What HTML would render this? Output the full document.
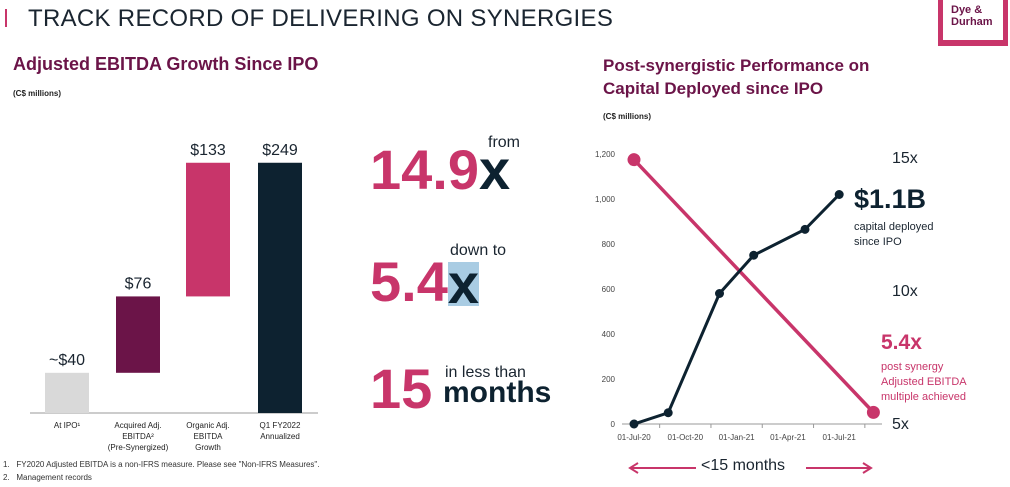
<!DOCTYPE html>
<html><head><meta charset="utf-8"><style>
body{margin:0;width:1010px;height:487px;background:#fff;overflow:hidden;font-family:"Liberation Sans",sans-serif;position:relative}
.a{position:absolute;white-space:nowrap}
</style></head><body>
<div class="a" style="left:5px;top:9px;width:2px;height:18px;background:#c8356a"></div>
<div class="a" style="left:28px;top:5px;font-size:24px;color:#1a2530;letter-spacing:0.3px">TRACK RECORD OF DELIVERING ON SYNERGIES</div>
<div class="a" style="left:938px;top:-4px;width:60px;height:44px;border:5px solid #c8356a;border-top:none;border-bottom:none"></div>
<div class="a" style="left:938px;top:40px;width:70px;height:6px;background:#c8356a"></div>
<div class="a" style="left:951px;top:4px;font-size:11px;font-weight:bold;color:#6b1448;line-height:12px">Dye &amp;<br>Durham</div>
<div class="a" style="left:13px;top:54px;font-size:18px;font-weight:bold;color:#6b1448">Adjusted EBITDA Growth Since IPO</div>
<div class="a" style="left:13px;top:89px;font-size:8px;font-weight:bold;color:#222">(C$ millions)</div>
<div class="a" style="left:603px;top:54px;font-size:17px;font-weight:bold;color:#6b1448;line-height:23px">Post-synergistic Performance on<br>Capital Deployed since IPO</div>
<div class="a" style="left:603px;top:112px;font-size:8px;font-weight:bold;color:#222">(C$ millions)</div>

<svg class="a" style="left:0;top:0" width="1010" height="487" id="svg"></svg>

<div class="a" style="left:370px;top:137px;font-size:56px;font-weight:bold;color:#c8356a">14.9<span style="color:#0d2230">x</span></div>
<div class="a" style="left:488px;top:134px;font-size:16px;color:#1a2530">from</div>
<div class="a" style="left:370px;top:249px;font-size:56px;font-weight:bold;color:#c8356a">5.4<span style="color:#0d2230;background:#a9cce3;line-height:44px;display:inline-block;vertical-align:-2px">x</span></div>
<div class="a" style="left:450px;top:242px;font-size:16px;color:#1a2530">down to</div>
<div class="a" style="left:370px;top:356px;font-size:56px;font-weight:bold;color:#c8356a">15</div>
<div class="a" style="left:445px;top:364px;font-size:16px;color:#1a2530">in less than</div>
<div class="a" style="left:443px;top:376px;font-size:30px;font-weight:bold;color:#0d2230">months</div>

<div class="a" style="left:3px;top:460px;font-size:8px;color:#333">1.&nbsp;&nbsp; FY2020 Adjusted EBITDA is a non-IFRS measure. Please see "Non-IFRS Measures".</div>
<div class="a" style="left:3px;top:473px;font-size:8px;color:#333">2.&nbsp;&nbsp; Management records</div>

<div class="a" style="left:854px;top:184px;font-size:27px;font-weight:bold;color:#0d2230">$1.1B</div>
<div class="a" style="left:854px;top:220px;font-size:11px;color:#1a2530;line-height:15px">capital deployed<br>since IPO</div>
<div class="a" style="left:881px;top:331px;font-size:21px;font-weight:bold;color:#c8356a">5.4x</div>
<div class="a" style="left:881px;top:360px;font-size:11px;color:#c8356a;line-height:15px">post synergy<br>Adjusted EBITDA<br>multiple achieved</div>
<div class="a" style="left:701px;top:457px;font-size:16px;color:#1a2530">&lt;15 months</div>

<script>
const barCats=["At IPO¹","Acquired Adj.\nEBITDA²\n(Pre-Synergized)","Organic Adj.\nEBITDA\nGrowth","Q1 FY2022\nAnnualized"];
const barVals=[40,76,133,249];
const barLabels=["~$40","$76","$133","$249"];
const lineDates=[0,2,5,7,10,12];
const capVals=[0,50,580,750,865,1020];
const multMonths=[0,14];
const multVals=[14.9,5.4];
const yTicks=[0,200,400,600,800,1000,1200];
const xTickLabels=["01-Jul-20","01-Oct-20","01-Jan-21","01-Apr-21","01-Jul-21"];
const multTicks=[15,10,5];

const NS="http://www.w3.org/2000/svg",svg=document.getElementById('svg');
function mk(t,a,txt){const e=document.createElementNS(NS,t);for(const k in a)e.setAttribute(k,a[k]);if(txt!=null)e.textContent=txt;svg.appendChild(e);return e;}
const by=v=>413-v*1.005;
mk('line',{x1:30,y1:413,x2:318,y2:413,stroke:'#999','stroke-width':1});
const colors=['#d9d9d9','#6b1448','#c8356a','#0d2230'];
const bx=[45,116,186,258];
let base=0;
barVals.forEach((v,i)=>{
  const total=i===3;
  const lo=total?0:base, hi=total?v:(i===0?v:base+v);
  const r=mk('rect',{x:bx[i],y:by(hi),width:44,height:by(lo)-by(hi),fill:colors[i]});
  
  
  const t=mk('text',{x:bx[i]+22,y:by(hi)-8,'text-anchor':'middle','font-size':16,fill:'#1a2530','font-family':'Liberation Sans'},barLabels[i]);
  
  barCats[i].split('\n').forEach((ln,j)=>{
    const c=mk('text',{x:bx[i]+22,y:428+j*11,'text-anchor':'middle','font-size':8,fill:'#222','font-family':'Liberation Sans'},ln);
    
  });
  if(!total)base=hi;
});
const X=m=>634+m*17.1, Y=v=>424-v*0.225, M=v=>423-(v-5)*26.6;
mk('line',{x1:622,y1:424,x2:882,y2:424,stroke:'#999'});
yTicks.forEach(v=>{const t=mk('text',{x:615,y:Y(v)+3,'text-anchor':'end','font-size':8,fill:'#444','font-family':'Liberation Sans'},v.toLocaleString('en-US'));});
xTickLabels.forEach((l,i)=>{
  const t=mk('text',{x:X(i*3),y:440,'text-anchor':'middle','font-size':8,fill:'#444','font-family':'Liberation Sans'},l);
  const k=mk('line',{x1:X(i*3+1.5),y1:424,x2:X(i*3+1.5),y2:428,stroke:'#999'});
});
multTicks.forEach(v=>{const t=mk('text',{x:892,y:M(v)+6,'font-size':16,fill:'#1a2530','font-family':'Liberation Sans'},v+'x');});
const mp=multMonths.map((m,i)=>X(m)+','+M(multVals[i])).join(' ');
mk('polyline',{points:mp,fill:'none',stroke:'#c8356a','stroke-width':3.5});
multMonths.forEach((m,i)=>{const c=mk('circle',{cx:X(m),cy:M(multVals[i]),r:6.5,fill:'#c8356a'});});
const cp=lineDates.map((m,i)=>X(m)+','+Y(capVals[i])).join(' ');
mk('polyline',{points:cp,fill:'none',stroke:'#0d2230','stroke-width':3});
lineDates.forEach((m,i)=>{const c=mk('circle',{cx:X(m),cy:Y(capVals[i]),r:4.5,fill:'#0d2230'});});
[[630,696],[806,871]].forEach(([a,b])=>{mk('line',{x1:a,y1:468,x2:b,y2:468,stroke:'#c8356a','stroke-width':2});});
mk('polyline',{points:'638,463 630,468 638,473',fill:'none',stroke:'#c8356a','stroke-width':2});
mk('polyline',{points:'863,463 871,468 863,473',fill:'none',stroke:'#c8356a','stroke-width':2});
</script>
</body></html>
